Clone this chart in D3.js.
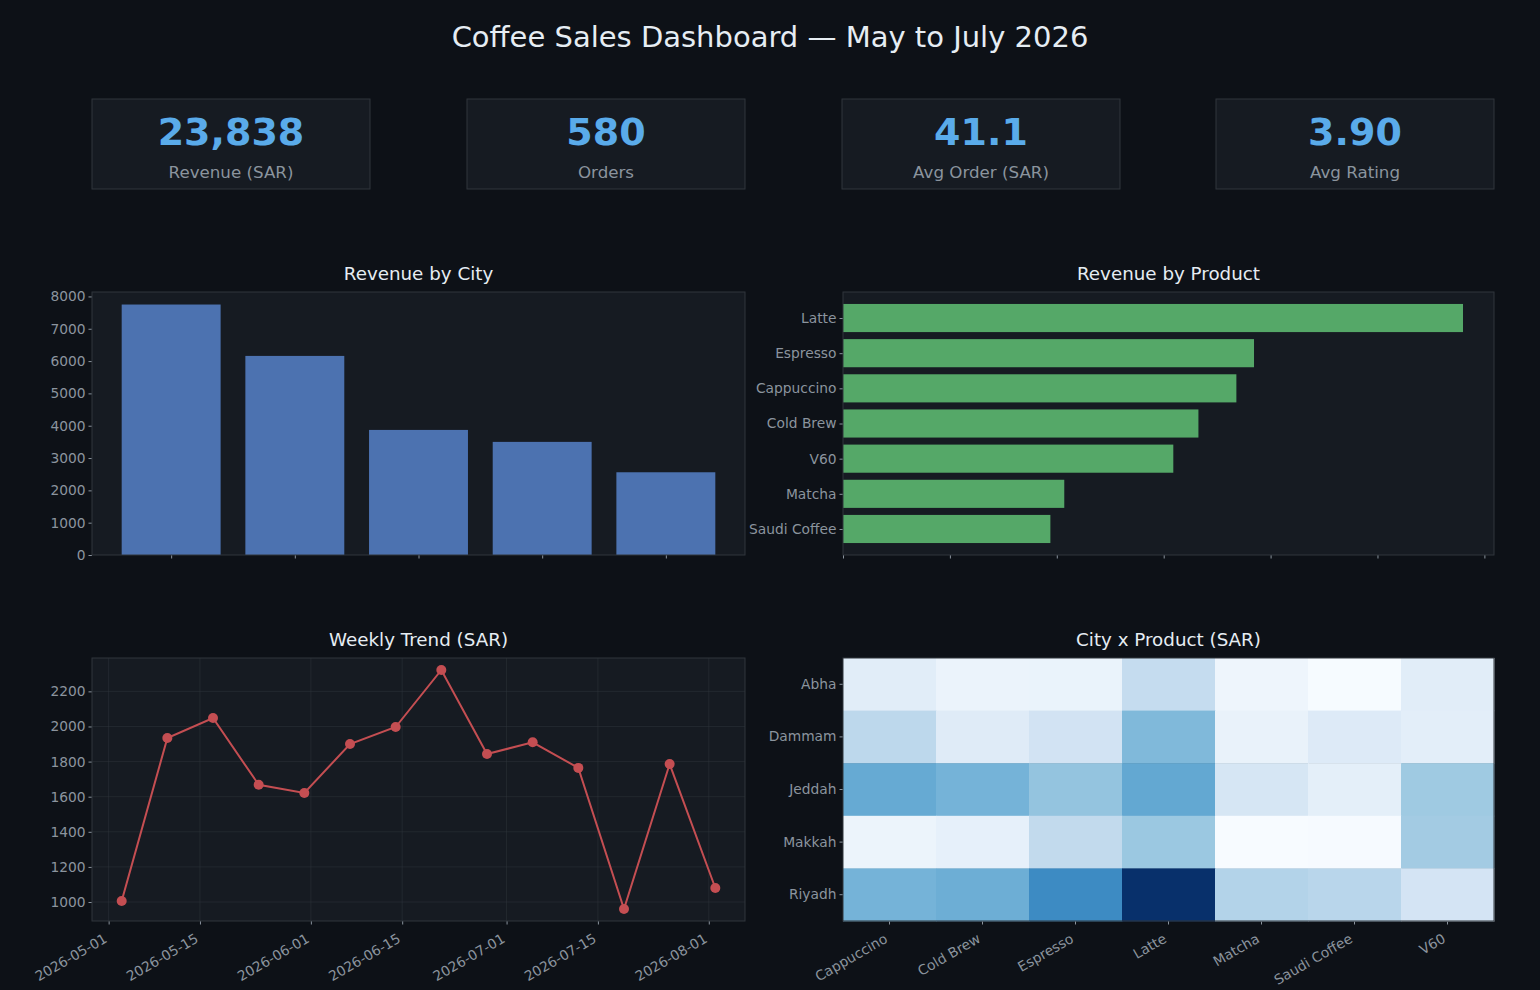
<!DOCTYPE html>
<html>
<head>
<meta charset="utf-8">
<script src="https://cdn.jsdelivr.net/npm/d3@7"></script>
<style>
  html, body { margin: 0; padding: 0; background: #0d1117; }
  svg { display: block; font-family: "DejaVu Sans", sans-serif; }
</style>
</head>
<body>
<svg id="chart" width="1540" height="990"></svg>
<script>
// ---------- DATA ----------
const kpiValues = ["23,838", "580", "41.1", "3.90"];
const kpiLabels = ["Revenue (SAR)", "Orders", "Avg Order (SAR)", "Avg Rating"];

const cities = ["Riyadh", "Jeddah", "Dammam", "Makkah", "Abha"];
const cityRevenue = [7750, 6160, 3870, 3500, 2560];

const products = ["Latte", "Espresso", "Cappuccino", "Cold Brew", "V60", "Matcha", "Saudi Coffee"];
const productRevenue = [5800, 3845, 3680, 3325, 3090, 2070, 1940];

const weekDates = ["2026-05-03", "2026-05-10", "2026-05-17", "2026-05-24", "2026-05-31", "2026-06-07", "2026-06-14",
                   "2026-06-21", "2026-06-28", "2026-07-05", "2026-07-12", "2026-07-19", "2026-07-26", "2026-08-02"];
const weekRevenue = [1006, 1934, 2048, 1668, 1621, 1900, 1997, 2322, 1843, 1910, 1764, 960, 1786, 1080];
const dateTicks = ["2026-05-01", "2026-05-15", "2026-06-01", "2026-06-15", "2026-07-01", "2026-07-15", "2026-08-01"];

const heatCities = ["Abha", "Dammam", "Jeddah", "Makkah", "Riyadh"];
const heatProducts = ["Cappuccino", "Cold Brew", "Espresso", "Latte", "Matcha", "Saudi Coffee", "V60"];
const heatValues = [
  [405, 310, 315, 650, 275, 200, 405],     // Abha
  [710, 425, 540, 1040, 330, 440, 385],    // Dammam
  [1169, 1094, 942, 1188, 507, 374, 885],  // Jeddah
  [299, 355, 677, 905, 194, 204, 866],     // Makkah
  [1094, 1132, 1415, 2078, 772, 734, 526]  // Riyadh
];

// ---------- STYLE ----------
const BG = "#0d1117", PANEL = "#161b22", BORDER = "#30363d";
const TEXT = "#e6edf3", MUTED = "#8b949e", ACCENT = "#5aabea";
const BLUE = "#4c72b0", GREEN = "#55a868", RED = "#c44e52";
const TICK_FS = 13.8;

const svg = d3.select("#chart");
svg.append("rect").attr("width", 1540).attr("height", 990).attr("fill", BG);

svg.append("text").attr("x", 770).attr("y", 47).attr("text-anchor", "middle")
  .attr("fill", TEXT).attr("font-size", 29).text("Coffee Sales Dashboard — May to July 2026");

// ---------- KPI CARDS ----------
const kpiX = [92, 467, 842, 1216];
kpiValues.forEach((v, i) => {
  const g = svg.append("g").attr("transform", `translate(${kpiX[i]},99)`);
  g.append("rect").attr("width", 278).attr("height", 90).attr("fill", PANEL).attr("stroke", BORDER).attr("stroke-width", 1);
  g.append("text").attr("x", 139).attr("y", 46).attr("text-anchor", "middle").attr("fill", ACCENT)
    .attr("font-size", 38).attr("font-weight", "bold").text(v);
  g.append("text").attr("x", 139).attr("y", 79).attr("text-anchor", "middle").attr("fill", MUTED)
    .attr("font-size", 16.7).text(kpiLabels[i]);
});

function panel(x0, y0, w, h, title) {
  const g = svg.append("g").attr("transform", `translate(${x0},${y0})`);
  g.append("rect").attr("width", w).attr("height", h).attr("fill", PANEL);
  svg.append("text").attr("x", x0 + w / 2).attr("y", y0 - 12).attr("text-anchor", "middle")
    .attr("fill", TEXT).attr("font-size", 18.3).text(title);
  return g;
}
function styleAxis(sel) {
  sel.select(".domain").remove();
  sel.selectAll(".tick line").attr("stroke", MUTED);
  sel.selectAll(".tick text").attr("fill", MUTED).attr("font-size", TICK_FS)
    .attr("font-family", "DejaVu Sans, sans-serif");
}
function rotateLabels(sel) {
  sel.selectAll(".tick text").attr("text-anchor", "end").attr("dy", null).attr("y", 0)
    .attr("transform", "translate(-3,17) rotate(-30)").attr("dominant-baseline", "middle");
}
function frame(g, w, h) {
  g.append("rect").attr("width", w).attr("height", h).attr("fill", "none").attr("stroke", BORDER).attr("stroke-width", 1);
}

// ---------- REVENUE BY CITY ----------
{
  const x0 = 92, y0 = 292, w = 653, h = 263;
  const g = panel(x0, y0, w, h, "Revenue by City");
  const n = cities.length;
  const xl = d3.scaleLinear().domain([-0.64, n - 1 + 0.64]).range([0, w]);
  const maxV = d3.max(cityRevenue) * 1.05;
  const y = d3.scaleLinear().domain([0, maxV]).range([h, 0]);
  g.selectAll("rect.bar").data(cityRevenue).join("rect").attr("class", "bar")
    .attr("x", (d, i) => xl(i - 0.4)).attr("width", (d, i) => xl(i + 0.4) - xl(i - 0.4))
    .attr("y", d => y(d)).attr("height", d => h - y(d)).attr("fill", BLUE);
  const ya = g.append("g").call(d3.axisLeft(y).tickValues(d3.range(0, 8001, 1000)).tickSize(3.5).tickPadding(3).tickFormat(d3.format("d")));
  styleAxis(ya);
  const xa = g.append("g").attr("transform", `translate(0,${h})`)
    .call(d3.axisBottom(xl).tickValues(d3.range(n)).tickSize(3.5).tickFormat(() => ""));
  styleAxis(xa);
  frame(g, w, h);
}

// ---------- REVENUE BY PRODUCT ----------
{
  const x0 = 843, y0 = 292, w = 651, h = 263;
  const g = panel(x0, y0, w, h, "Revenue by Product");
  const n = products.length;
  const maxV = d3.max(productRevenue) * 1.05;
  const x = d3.scaleLinear().domain([0, maxV]).range([0, w]);
  const yl = d3.scaleLinear().domain([-0.74, n - 1 + 0.74]).range([0, h]);
  g.selectAll("rect.bar").data(productRevenue).join("rect").attr("class", "bar")
    .attr("x", 0).attr("width", d => x(d))
    .attr("y", (d, i) => yl(i - 0.4)).attr("height", (d, i) => yl(i + 0.4) - yl(i - 0.4)).attr("fill", GREEN);
  const ya = g.append("g").call(d3.axisLeft(yl).tickValues(d3.range(n)).tickSize(3.5).tickPadding(3).tickFormat(i => products[i]));
  styleAxis(ya);
  const xa = g.append("g").attr("transform", `translate(0,${h})`)
    .call(d3.axisBottom(x).tickValues(d3.range(0, 6001, 1000)).tickSize(3.5).tickFormat(() => ""));
  styleAxis(xa);
  frame(g, w, h);
}

// ---------- WEEKLY TREND ----------
{
  const x0 = 92, y0 = 658, w = 653, h = 263;
  const g = panel(x0, y0, w, h, "Weekly Trend (SAR)");
  const parse = d3.utcParse("%Y-%m-%d");
  const dates = weekDates.map(parse);
  const t0 = +dates[0], t1 = +dates[dates.length - 1], pad = (t1 - t0) * 0.05;
  const x = d3.scaleUtc().domain([new Date(t0 - pad), new Date(t1 + pad)]).range([0, w]);
  const ymin = d3.min(weekRevenue), ymax = d3.max(weekRevenue), yp = (ymax - ymin) * 0.05;
  const y = d3.scaleLinear().domain([ymin - yp, ymax + yp]).range([h, 0]);
  const yTicks = d3.range(1000, 2201, 200);
  const xTicks = dateTicks.map(parse);
  g.append("g").selectAll("line").data(yTicks).join("line")
    .attr("x1", 0).attr("x2", w).attr("y1", d => y(d)).attr("y2", d => y(d))
    .attr("stroke", BORDER).attr("stroke-opacity", 0.6).attr("stroke-width", 0.8);
  g.append("g").selectAll("line").data(xTicks).join("line")
    .attr("y1", 0).attr("y2", h).attr("x1", d => x(d)).attr("x2", d => x(d))
    .attr("stroke", BORDER).attr("stroke-opacity", 0.6).attr("stroke-width", 0.8);
  const line = d3.line().x((d, i) => x(dates[i])).y(d => y(d));
  g.append("path").datum(weekRevenue).attr("d", line).attr("fill", "none").attr("stroke", RED).attr("stroke-width", 2);
  g.selectAll("circle").data(weekRevenue).join("circle")
    .attr("cx", (d, i) => x(dates[i])).attr("cy", d => y(d)).attr("r", 5).attr("fill", RED);
  const ya = g.append("g").call(d3.axisLeft(y).tickValues(yTicks).tickSize(3.5).tickPadding(3).tickFormat(d3.format("d")));
  styleAxis(ya);
  const xa = g.append("g").attr("transform", `translate(0,${h})`)
    .call(d3.axisBottom(x).tickValues(xTicks).tickSize(3.5).tickFormat(d3.utcFormat("%Y-%m-%d")));
  styleAxis(xa);
  rotateLabels(xa);
  frame(g, w, h);
}

// ---------- HEATMAP ----------
{
  const x0 = 843, y0 = 658, w = 651, h = 263;
  const g = panel(x0, y0, w, h, "City x Product (SAR)");
  const x = d3.scaleBand().domain(heatProducts).range([0, w]);
  const y = d3.scaleBand().domain(heatCities).range([0, h]);
  const all = heatValues.flat();
  const color = d3.scaleSequential(d3.interpolateBlues).domain([d3.min(all), d3.max(all)]);
  heatCities.forEach((c, r) => {
    g.selectAll(`rect.r${r}`).data(heatValues[r]).join("rect").attr("class", `r${r}`)
      .attr("x", (d, j) => x(heatProducts[j])).attr("y", y(c))
      .attr("width", x.bandwidth() + 0.5).attr("height", y.bandwidth() + 0.5)
      .attr("fill", d => color(d));
  });
  const ya = g.append("g").call(d3.axisLeft(y).tickSize(3.5).tickPadding(3));
  styleAxis(ya);
  const xa = g.append("g").attr("transform", `translate(0,${h})`)
    .call(d3.axisBottom(x).tickSize(3.5));
  styleAxis(xa);
  rotateLabels(xa);
  frame(g, w, h);
}
</script>
</body>
</html>
